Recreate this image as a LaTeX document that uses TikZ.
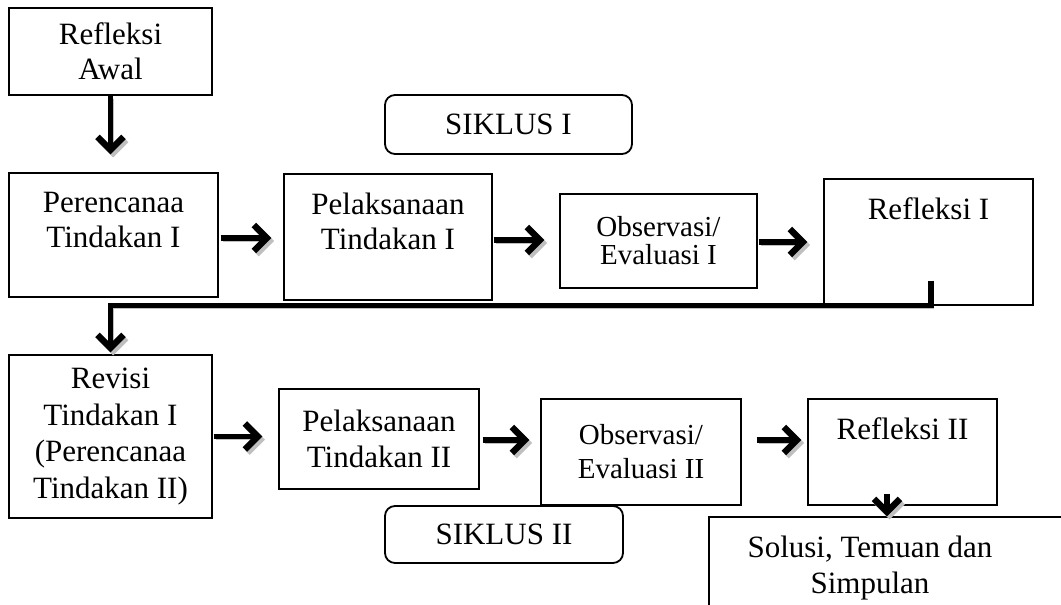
\documentclass[tikz,border=0pt]{standalone}
\usepackage{fontspec}
\setmainfont{Liberation Serif}
\usetikzlibrary{arrows.meta,positioning,calc}

\tikzset{
  stepbox/.style={draw, line width=0.6pt, inner sep=0pt, align=center, font=\fontsize{15.5}{17.5}\selectfont},
  siklusbox/.style={draw, line width=0.9pt, rounded corners=5pt, inner sep=0pt, fill=white, font=\fontsize{15.5}{17.5}\selectfont},
  boxtext/.style={align=center, inner sep=0pt, font=\fontsize{15.5}{17.5}\selectfont},
  toptext/.style={label={[boxtext,anchor=north,yshift=-9.5pt]north:{#1}}},
  flowarrow/.style={line width=2.6pt, -{Straight Barb[length=6.5pt,width=13pt,line width=3.2pt]},
    preaction={draw=gray!50, transform canvas={shift={(1.3pt,-1.5pt)}}}},
}

\begin{document}
\begin{tikzpicture}[x=0.5pt,y=-0.5pt]
\useasboundingbox (0,0) rectangle (1061,605);
\clip (0,0) rectangle (1061,605);

% first cycle
\node[stepbox, minimum width=101.5pt, minimum height=43.5pt] (awal) at (110.5,51.5) {Refleksi\\Awal};
\node[siklusbox, minimum width=123.5pt, minimum height=29.5pt] (siklus1) at (508.5,124.5) {SIKLUS I};
\node[stepbox, minimum width=104.5pt, minimum height=62pt, toptext={Perencanaa\\Tindakan I}] (ren1) at (113.5,235) {};
\node[stepbox, minimum width=104pt, minimum height=63pt, toptext={Pelaksanaan\\Tindakan I}] (pel1) at (388,237) {};
\node[stepbox, minimum width=98.5pt, minimum height=47pt, font=\fontsize{14.5}{14}\selectfont] (obs1) at (658.5,241) {Observasi/\\Evaluasi I};
\node[stepbox, minimum width=104.5pt, minimum height=63pt, toptext={Refleksi I}] (ref1) at (928.5,242) {};

% second cycle
\node[stepbox, minimum width=101.5pt, minimum height=81.5pt, font=\fontsize{15.5}{18.3}\selectfont] (rev) at (110.5,436.5) {Revisi\\Tindakan I\\(Perencanaa\\Tindakan II)};
\node[stepbox, minimum width=100pt, minimum height=50pt, font=\fontsize{15.5}{18}\selectfont] (pel2) at (379,439) {Pelaksanaan\\Tindakan II};
\node[stepbox, minimum width=100pt, minimum height=53pt, font=\fontsize{14.5}{17}\selectfont] (obs2) at (641,452) {Observasi/\\Evaluasi II};
\node[stepbox, minimum width=94.5pt, minimum height=53pt, toptext={Refleksi II}] (ref2) at (902.5,452) {};
\node[siklusbox, minimum width=119pt, minimum height=28.5pt] (siklus2) at (504,534.5) {SIKLUS II};
\node[stepbox, minimum width=183pt, minimum height=61.5pt] (sol) at (892,578.5) {};
\node[boxtext, font=\fontsize{15.5}{18}\selectfont] (solt) at (870,568) {Solusi, Temuan dan\\Simpulan};

% arrows
\draw[flowarrow, shorten >=9pt] (awal.south) -- (awal.south |- ren1.north);
\draw[flowarrow, shorten <=1pt, shorten >=6pt] ([yshift=-1.5pt]ren1.east) -- ([yshift=-1.5pt]ren1.east -| pel1.west);
\draw[flowarrow, shorten <=0.5pt, shorten >=7.5pt] ([yshift=-1.5pt]pel1.east) -- ([yshift=-1.5pt]pel1.east -| obs1.west);
\draw[flowarrow, shorten <=0.5pt, shorten >=8pt] ([yshift=-0.5pt]obs1.east) -- ([yshift=-0.5pt]obs1.east -| ref1.west);
\draw[flowarrow, shorten >=1pt] ([xshift=1.25pt,yshift=12.5pt]ref1.south) -- ([xshift=1.25pt]ref1.south) -| (rev.north);
\draw[flowarrow, shorten <=0.5pt, shorten >=8pt] (rev.east) -- (rev.east -| pel2.west);
\draw[flowarrow, shorten <=1.5pt, shorten >=5.5pt] ([yshift=-0.5pt]pel2.east) -- ([yshift=-0.5pt]pel2.east -| obs2.west);
\draw[flowarrow, shorten <=7.5pt, shorten >=3pt] ([yshift=6pt]obs2.east) -- ([yshift=6pt]obs2.east -| ref2.west);
\draw[flowarrow] ([xshift=-7.75pt,yshift=6pt]ref2.south) -- ([xshift=-7.75pt]ref2.south |- sol.north);

\end{tikzpicture}
\end{document}
